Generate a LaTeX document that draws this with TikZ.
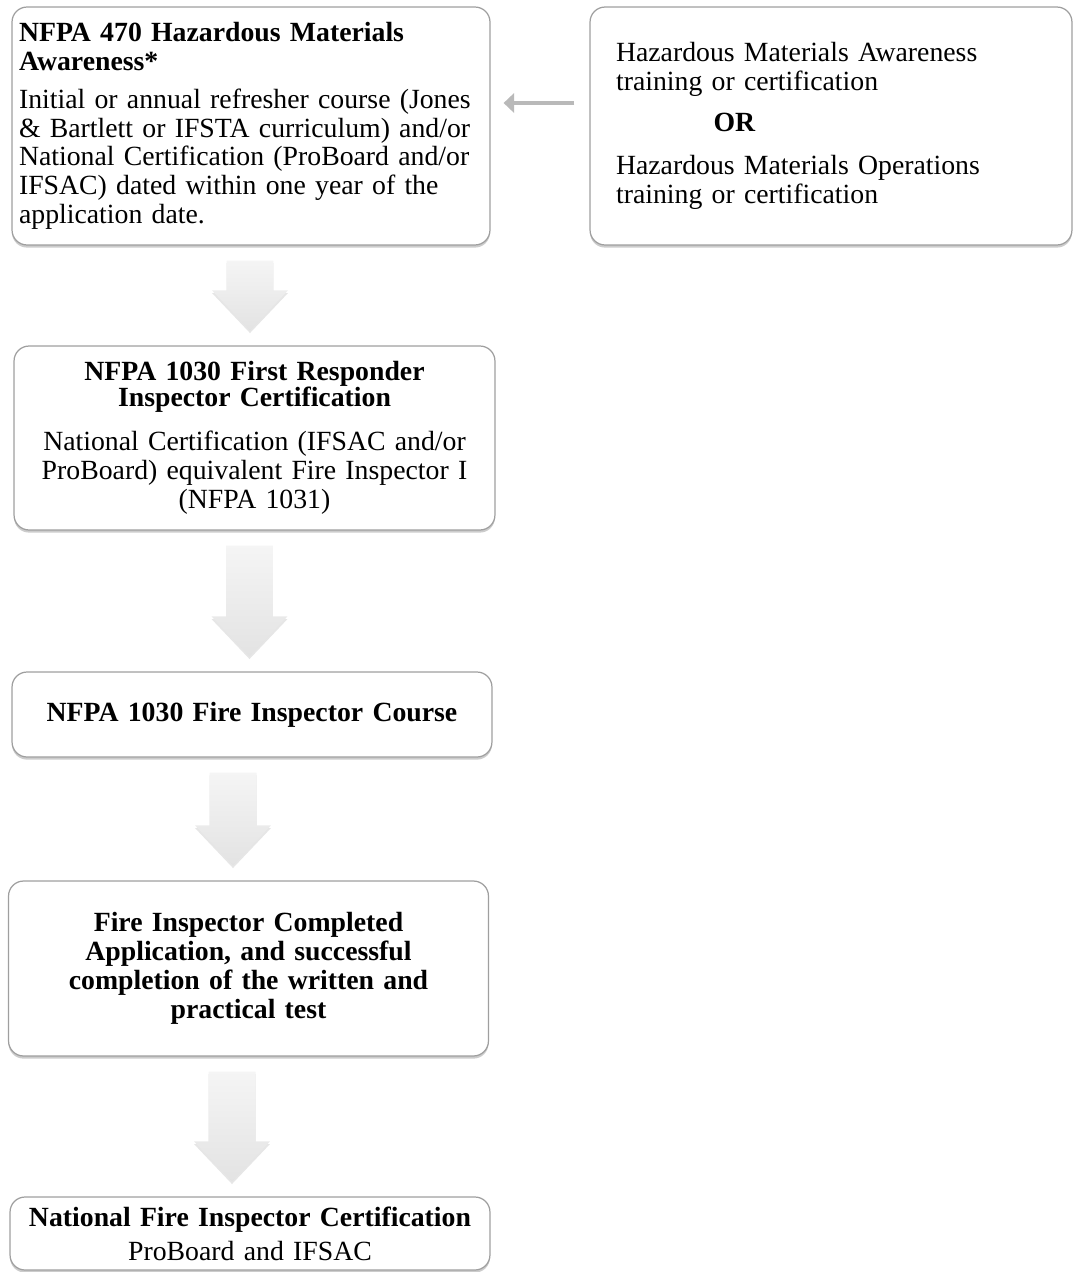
\documentclass[tikz,border=0pt]{standalone}
\usepackage{fontspec}
\setmainfont{Liberation Serif}
\usetikzlibrary{calc,shadows,arrows.meta}

\newcommand{\boxfont}{\fontsize{15.8}{16.4}\selectfont\spaceskip=2.5pt plus 0.8pt minus 0.5pt\relax}

\newcommand{\flowdown}[3]{%
	\shade[flowarrow] let \p1=($(#1.south)+(#3,-0.3cm)$), \p2=($(#2.north)+(#3,0.3cm)$) in
		(\x1-0.47cm,\y1) -- (\x1+0.47cm,\y1) -- (\x1+0.47cm,\y2+0.8cm) -- (\x1+0.76cm,\y2+0.8cm)
		-- (\x1,\y2) -- (\x1-0.76cm,\y2+0.8cm) -- (\x1-0.47cm,\y2+0.8cm) -- cycle;
}

\begin{document}
\begin{tikzpicture}[x=0.02cm, y=-0.02cm,
	box/.style={draw=gray!75, line width=0.7pt, rounded corners=0.3cm, fill=white, font=\boxfont,
		drop shadow={shadow xshift=0pt, shadow yshift=-1.5pt, opacity=0.4, fill=gray}, inner xsep=4pt, inner ysep=2pt},
	flowarrow/.style={top color=gray!8, bottom color=gray!22,
		drop shadow={shadow xshift=0pt, shadow yshift=-1.5pt, opacity=0.2, fill=gray}},
	sidearrow/.style={draw=gray!55, line width=2.3pt, -{Triangle[width=11pt,length=6pt]}}]
				\useasboundingbox (0,0) rectangle (1075,1272);
				
				\node[box, minimum width=9.56cm, minimum height=4.76cm, text width=9.28cm, align=left] (hazaware) at (251,126)
					{\textbf{NFPA 470 Hazardous Materials}\\ \textbf{Awareness*}\\[5pt]
					Initial or annual refresher course (Jones\\ \& Bartlett or IFSTA curriculum) and/or\\
					National Certification (ProBoard and/or\\ IFSAC) dated within one year of the\\ application date.};
				\node[box, minimum width=9.64cm, minimum height=4.76cm, inner xsep=0.5cm, text width=8.6cm, align=left] (hazopts) at (831,126)
					{Hazardous Materials Awareness\\ training or certification\\[7pt]
					\hspace*{1.95cm}\textbf{OR}\\[8pt]
					Hazardous Materials Operations\\ training or certification};
				
				\node[box, minimum width=9.62cm, minimum height=3.68cm, text width=9.3cm, align=center] (firstresp) at (254.5,438)
					{\textbf{NFPA 1030 First Responder}\\[-2pt] \textbf{Inspector Certification}\\[9pt]
					National Certification (IFSAC and/or\\ ProBoard) equivalent Fire Inspector I\\ (NFPA 1031)};
				\node[box, minimum width=9.6cm, minimum height=1.7cm, text width=9.3cm, align=center] (course) at (252,714.5)
					{\textbf{NFPA 1030 Fire Inspector Course}};
				\node[box, minimum width=9.6cm, minimum height=3.5cm, text width=9.3cm, align=center] (apptest) at (248.5,968.5)
					{\textbf{Fire Inspector Completed}\\ \textbf{Application, and successful}\\
					\textbf{completion of the written and}\\ \textbf{practical test}};
				\node[box, minimum width=9.6cm, minimum height=1.46cm, text width=9.3cm, align=center] (natcert) at (250,1233.5)
					{\textbf{National Fire Inspector Certification}\\[3pt] ProBoard and IFSAC};
				
				\draw[sidearrow] ($(hazopts.west)+(-0.3cm,0.46cm)$) -- ($(hazaware.east)+(0.26cm,0.46cm)$);
				
				\flowdown{hazaware}{firstresp}{-0.02cm}
				\flowdown{firstresp}{course}{-0.1cm}
				\flowdown{course}{apptest}{-0.38cm}
				\flowdown{apptest}{natcert}{-0.33cm}
\end{tikzpicture}
\end{document}
